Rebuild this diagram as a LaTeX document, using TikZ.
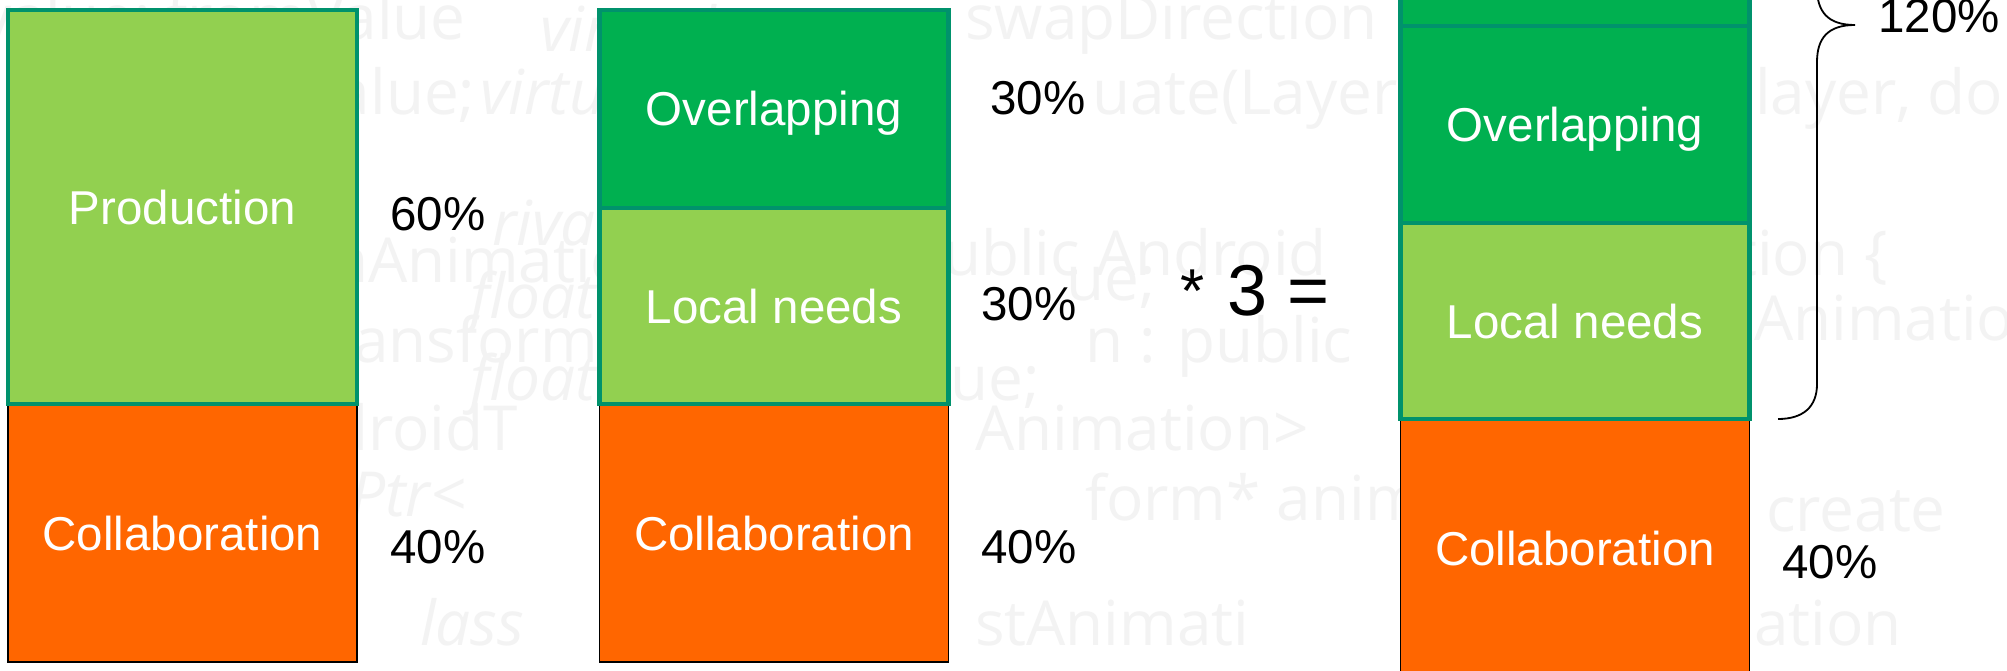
\documentclass[tikz,border=0pt]{standalone}
\usepackage{fontspec}
\setmainfont{Liberation Sans}
\newfontfamily\wmfont{Open Sans}
\definecolor{lgreen}{RGB}{146,208,80}
\definecolor{dgreen}{RGB}{0,176,80}
\definecolor{orng}{RGB}{255,102,0}
\definecolor{segborder}{RGB}{0,146,108}
\definecolor{wmgray}{RGB}{243,243,243}
\begin{document}
\begin{tikzpicture}[x=1pt,y=-1pt,
  boxtext/.style={text=white, font=\fontsize{47.5}{57}\selectfont, text height=34pt, text depth=0pt, inner sep=0pt},
  upseg/.style={boxtext, draw=segborder, line width=4.5pt, minimum width=349pt},
  lowseg/.style={boxtext, fill=orng, draw=black, line width=1.8pt, minimum width=349pt, minimum height=258pt},
  pct/.style={font=\fontsize{47.5}{57}\selectfont, inner sep=0pt, anchor=base west},
  wm/.style={text=wmgray, font=\wmfont\fontsize{62}{70}\selectfont, inner sep=0pt, anchor=base west},
  wmi/.style={wm, font=\wmfont\itshape\fontsize{62}{70}\selectfont}]
\useasboundingbox (0,0) rectangle (2007,671);
\clip (0,0) rectangle (2007,671);
\fill[white] (0,0) rectangle (2007,671);
% faint background watermark
\node[wm] (w1) at (-20,40) {value; fromValue};
\node[wmi] (w2) at (540,52) {virtual};
\node[wm] (w3) at (965,40) {swapDirection};
\node[wm] (w4) at (300,115) {Value;};
\node[wmi] (w5) at (480,115) {virtual};
\node[wm] (w6) at (1092,115) {uate(Layer*};
\node[wm] (w7) at (1755,115) {layer, double};
\node[wmi] (w8) at (492,245) {rivate};
\node[wm] (w9) at (330,282) {nAnimation};
\node[wm] (w10) at (905,275) {public Android};
\node[wm] (w11) at (1550,275) {Animation \{};
\node[wmi] (w12) at (470,318) {float};
\node[wm] (w13) at (1066,300) {ue;};
\node[wm] (w14) at (330,362) {ransform};
\node[wm] (w15) at (1085,362) {n : public};
\node[wm] (w16) at (1754,340) {Animation};
\node[wmi] (w17) at (470,400) {float};
\node[wm] (w18) at (950,400) {ue;};
\node[wm] (w19) at (330,450) {droidT};
\node[wm] (w20) at (975,450) {Animation>};
\node[wmi] (w21) at (350,516) {Ptr<};
\node[wm] (w22) at (1085,520) {form* anim};
\node[wm] (w23) at (1766,531) {create};
\node[wmi] (w24) at (420,645) {lass};
\node[wm] (w25) at (975,645) {stAnimati};
\node[wm] (w26) at (1754,645) {ation};
% column 1
\node[lowseg] (c1) at (182.5,533) {Collaboration};
\node[upseg, fill=lgreen, minimum height=394pt] (prod) at (182.5,207) {Production};
\node[pct] (p60) at (390,230) {60\%};
\node[pct] (p40a) at (390,563) {40\%};
% column 2
\node[lowseg] (c2) at (774,533) {Collaboration};
\node[upseg, fill=lgreen, minimum height=196pt] (loc2) at (774,306) {Local needs};
\node[upseg, fill=dgreen, minimum height=198pt] (ov2) at (774,109) {Overlapping};
\node[pct] (p30a) at (990,115) {30\%};
\node[pct] (p30b) at (981,320) {30\%};
\node[pct] (p40b) at (981,563) {40\%};
% multiplier
\node[pct, font=\fontsize{62}{70}\selectfont] (ast) at (1180,312) {*};
\node[pct, font=\fontsize{72}{86}\selectfont] (times) at (1227,315) {3 =};
% column 3
\node[lowseg] (c3) at (1575,548) {Collaboration};
\node[upseg, fill=lgreen, minimum height=196pt] (loc3) at (1575,321) {Local needs};
\node[upseg, fill=dgreen, minimum height=197pt] (ov3) at (1575,124.5) {Overlapping};
\node[upseg, fill=dgreen, minimum height=197pt] (ov3b) at (1575,-72.5) {};
\node[pct] (p40c) at (1782,578) {40\%};
\node[pct] (p120) at (1878,33) {120\%};
% brace
\coordinate (bbot) at (1778,419);
\coordinate (btip) at (1855,25);
\coordinate (btop) at (1778,-369);
\draw[line width=1.8pt] (bbot) .. controls (1803,419) and (1817,407) .. (1817,384)
  -- (1817,62) .. controls (1817,38) and (1828,25) .. (btip)
  .. controls (1828,25) and (1817,12) .. (1817,-12)
  -- (1817,-334) .. controls (1817,-357) and (1803,-369) .. (btop);
\end{tikzpicture}
\end{document}
